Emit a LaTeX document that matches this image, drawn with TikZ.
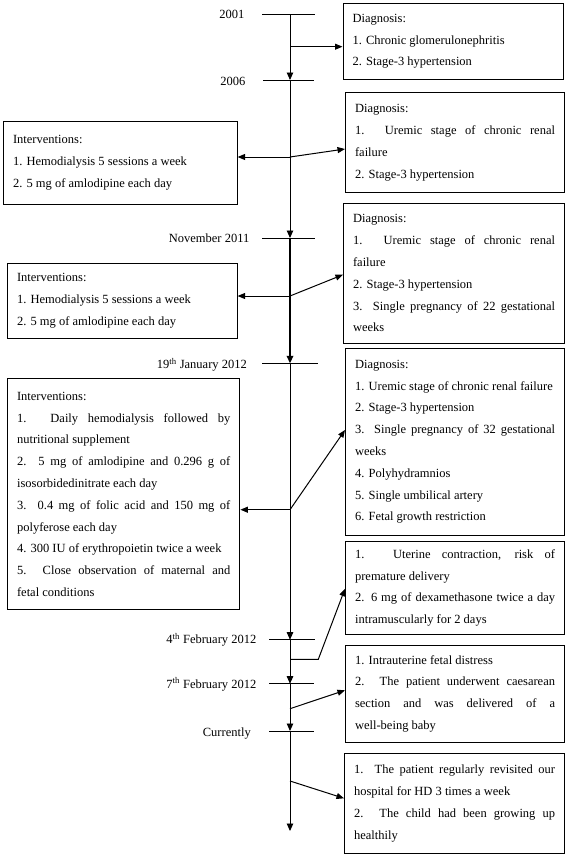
\documentclass[tikz,border=0pt]{standalone}
\usepackage{fontspec}
\setmainfont{Liberation Serif}
\usetikzlibrary{arrows.meta,calc}
\setlength{\parindent}{0pt}
\hyphenpenalty=10000
\exhyphenpenalty=10000
\begin{document}
\begin{tikzpicture}[x=1bp,y=-1bp,
  box/.style={draw, line width=1.1bp, inner xsep=9.5bp, inner ysep=0pt, anchor=north west, align=justify,
    font=\fontsize{12.5bp}{21.8bp}\selectfont},
  lbl/.style={anchor=base east, inner sep=0pt, font=\fontsize{12.5bp}{15bp}\selectfont},
  arr/.style={-{Triangle[length=7.5bp,width=6bp]}, line width=1bp},
  tick/.style={line width=1bp},
  tl/.style={-{Triangle[length=7.5bp,width=6.5bp]}, line width=0.9bp}]
\path[fill=white] (0,0) rectangle (567,857);
\useasboundingbox (0,0) rectangle (567,857);

% timeline points
\coordinate (t0) at (290,14);
\coordinate (t1) at (290,80);
\coordinate (t2) at (290,238);
\coordinate (t3) at (290,363.3);
\coordinate (t4) at (290,639.7);
\coordinate (t5) at (290,683.7);
\coordinate (t6) at (290,731);
\coordinate (tend) at (290,831);

% tick ends
\coordinate (k0a) at (262,14);    \coordinate (k0b) at (315,14);
\coordinate (k1a) at (263,80);    \coordinate (k1b) at (314,80);
\coordinate (k2a) at (262,238);   \coordinate (k2b) at (315,238);
\coordinate (k3a) at (262,363.3); \coordinate (k3b) at (318,363.3);
\coordinate (k4a) at (269,639.7); \coordinate (k4b) at (315,639.7);
\coordinate (k5a) at (269,683.7); \coordinate (k5b) at (314,683.7);
\coordinate (k6a) at (269,731);   \coordinate (k6b) at (314,731);

% date labels
\node[lbl] (d0) at (244.5,18.5) {2001};
\node[lbl] (d1) at (245.5,85.5) {2006};
\node[lbl] (d2) at (249.5,242.5) {November 2011};
\node[lbl] (d3) at (247,368.5) {19\textsuperscript{th} January 2012};
\node[lbl] (d4) at (256.5,643.5) {4\textsuperscript{th} February 2012};
\node[lbl] (d5) at (256.5,688) {7\textsuperscript{th} February 2012};
\node[lbl] (d6) at (251,736.5) {Currently};

% right boxes
\node[box, text width=201.5bp, minimum height=76.3bp] (r1) at (342.5,2.7)
  {Diagnosis:\par 1. Chronic glomerulonephritis\par 2. Stage-3 hypertension};
\node[box, text width=200bp, minimum height=99.7bp] (r2) at (345,92.3)
  {Diagnosis:\par 1. Uremic stage of chronic renal\linebreak failure\par 2. Stage-3 hypertension};
\node[box, text width=202bp, minimum height=139.7bp] (r3) at (343,203)
  {Diagnosis:\par 1. Uremic stage of chronic renal\linebreak failure\par 2. Stage-3 hypertension\par 3. Single pregnancy of 22 gestational\linebreak weeks};
\node[box, text width=200bp, minimum height=187bp] (r4) at (345,347.7)
  {Diagnosis:\par 1. Uremic stage of chronic renal failure\par 2. Stage-3 hypertension\par 3. Single pregnancy of 32 gestational\linebreak weeks\par 4. Polyhydramnios\par 5. Single umbilical artery\par 6. Fetal growth restriction};
\node[box, text width=200bp, minimum height=93.3bp] (r5) at (345,540.7)
  {1. Uterine contraction, risk of\linebreak premature delivery\par 2. 6 mg of dexamethasone twice a day\linebreak intramuscularly for 2 days};
\node[box, text width=200bp, minimum height=97bp] (r6) at (345,644.7)
  {1. Intrauterine fetal distress\par 2. The patient underwent caesarean\linebreak section and was delivered of a\linebreak well-being baby};
\node[box, text width=201bp, minimum height=100.8bp] (r7) at (344,752.5)
  {1. The patient regularly revisited our\linebreak hospital for HD 3 times a week\par 2. The child had been growing up\linebreak healthily};

% left boxes
\node[box, text width=214.5bp, minimum height=82.7bp] (l1) at (3,121)
  {Interventions:\par 1. Hemodialysis 5 sessions a week\par 2. 5 mg of amlodipine each day};
\node[box, text width=210.5bp, minimum height=74.7bp] (l2) at (7,263)
  {Interventions:\par 1. Hemodialysis 5 sessions a week\par 2. 5 mg of amlodipine each day};
\node[box, text width=213.3bp, minimum height=231bp] (l3) at (7,378.3)
  {Interventions:\par 1. Daily hemodialysis followed by\linebreak nutritional supplement\par 2. 5 mg of amlodipine and 0.296 g of\linebreak isosorbidedinitrate each day\par 3. 0.4 mg of folic acid and 150 mg of\linebreak polyferose each day\par 4. 300 IU of erythropoietin twice a week\par 5. Close observation of maternal and\linebreak fetal conditions};

% ticks
\draw[tick] (k0a) -- (k0b);
\draw[tick] (k1a) -- (k1b);
\draw[tick] (k2a) -- (k2b);
\draw[tick] (k3a) -- (k3b);
\draw[tick] (k4a) -- (k4b);
\draw[tick] (k5a) -- (k5b);
\draw[tick] (k6a) -- (k6b);

% timeline
\draw[tl] (t0) -- (t1);
\draw[tl] (t1) -- (t2);
\draw[tl, line width=2bp] (t2) -- (t3);
\draw[tl] (t3) -- (t4);
\draw[tl] (t4) -- (t5);
\draw[tl] (t5) -- (t6);
\draw[tl] (t6) -- (tend);

% branches
\coordinate (b1) at (290,46.7);
\coordinate (b2) at (290,157);
\coordinate (b3) at (290,296);
\coordinate (b4) at (290,509.7);
\coordinate (b5) at (290,659.3);
\coordinate (b5k) at (318.3,659.3);
\coordinate (b6) at (290,708.7);
\coordinate (b7) at (290,781);

\draw[arr] (b1) -- (b1 -| r1.west);
\draw[arr] (b2) -- (b2 -| l1.east);
\draw[arr] (b2) -- ([yshift=-56.7bp]r2.north west);
\draw[arr] (b3) -- (b3 -| l2.east);
\draw[arr] (b3) -- ([yshift=-71.7bp]r3.north west);
\draw[arr] (b4) -- (b4 -| l3.east);
\draw[arr] (b4) -- ([yshift=-82.3bp]r4.north west);
\draw[arr] (b5) -- (b5k) -- ([yshift=-48bp]r5.north west);
\draw[arr] (b6) -- ([yshift=-45.6bp]r6.north west);
\draw[arr] (b7) -- ([yshift=-45.8bp]r7.north west);
\end{tikzpicture}
\end{document}
